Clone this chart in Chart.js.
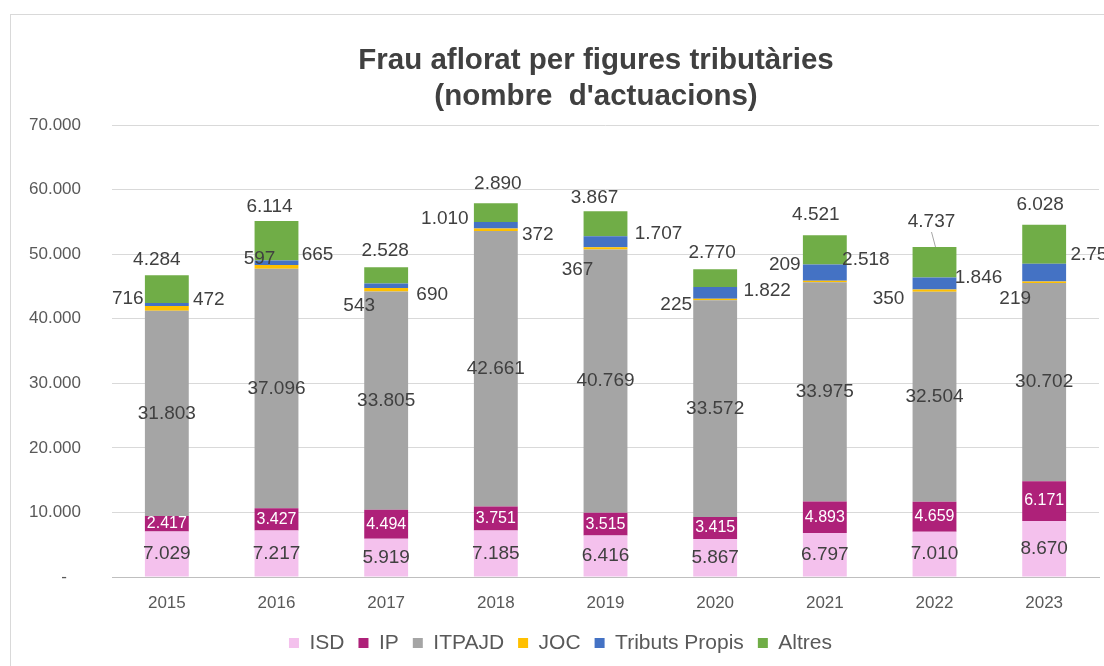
<!DOCTYPE html>
<html>
<head>
<meta charset="utf-8">
<script src="https://cdn.jsdelivr.net/npm/chart.js@4.4.1/dist/chart.umd.min.js"></script>
<style>
  html, body { margin: 0; padding: 0; background: #fff; }
  #wrap { position: relative; width: 1104px; height: 666px; overflow: hidden; }
  #frame { position: absolute; left: 10px; top: 14px; width: 1200px; height: 800px;
           border-left: 1px solid #d9d9d9; border-top: 1px solid #d9d9d9; }
  canvas { position: absolute; left: 0; top: 0; }
</style>
</head>
<body>
<div id="wrap">
  <div id="frame"></div>
  <canvas id="chart" width="1104" height="666"></canvas>
</div>
<script>
// data
var years = ['2015', '2016', '2017', '2018', '2019', '2020', '2021', '2022', '2023'];
var isd = [7029, 7217, 5919, 7185, 6416, 5867, 6797, 7010, 8670];
var ip = [2417, 3427, 4494, 3751, 3515, 3415, 4893, 4659, 6171];
var itpajd = [31803, 37096, 33805, 42661, 40769, 33572, 33975, 32504, 30702];
var joc = [716, 597, 543, 372, 367, 225, 209, 350, 219];
var tributs = [472, 665, 690, 1010, 1707, 1822, 2518, 1846, 2754];
var altres = [4284, 6114, 2528, 2890, 3867, 2770, 4521, 4737, 6028];
var yTicks = [0, 10000, 20000, 30000, 40000, 50000, 60000, 70000];

// where the small labels sit (offset from the segment, in px)
var jocDx = [-39, -17, -27, 42, -28, -39, -40, -46, -29];
var jocDy = [-10, -8, 16, 5, 21, 5, -17, 8, 17];
var tribDx = [42, 41, 46, -51, 53, 52, 41, 44, 50];
var tribDy = [-5, -8, 9, -6, -8, -2, -13, -6, -18];
var altDx = [-10, -7, -1, 2, -11, -3, -9, -3, -4];
var altDy = [-16, -14, -16, -20, -13, -16, -21, -25, -20];

var FONT = "'Liberation Sans', Arial, sans-serif";
Chart.defaults.font.family = FONT;

function fmt(v) {
  return String(v).replace(/\B(?=(\d{3})+(?!\d))/g, '.');
}

var titlePlugin = {
  id: 'titleText',
  afterDraw: function(chart) {
    var ctx = chart.ctx;
    ctx.save();
    ctx.fillStyle = '#404040';
    ctx.font = 'bold 29.5px ' + FONT;
    ctx.textAlign = 'center';
    ctx.textBaseline = 'middle';
    ctx.fillText('Frau aflorat per figures tributàries', 596, 61);
    ctx.fillText("(nombre  d'actuacions)", 596, 97);
    ctx.restore();
  }
};

var valueLabels = {
  id: 'valueLabels',
  afterDatasetsDraw: function(chart) {
    var ctx = chart.ctx;
    ctx.save();
    ctx.textAlign = 'center';
    ctx.textBaseline = 'middle';
    chart.data.datasets.forEach(function(ds, di) {
      var meta = chart.getDatasetMeta(di);
      meta.data.forEach(function(bar, i) {
        var txt = fmt(ds.data[i]);
        var x = bar.x;
        var y = (bar.y + bar.base) / 2;
        ctx.fillStyle = '#404040';
        ctx.font = '19px ' + FONT;
        if (di === 1) {
          ctx.fillStyle = '#ffffff';
          ctx.font = '16px ' + FONT;
        } else if (di === 3) {
          x += jocDx[i]; y += jocDy[i];
        } else if (di === 4) {
          x += tribDx[i]; y += tribDy[i];
        } else if (di === 5) {
          x += altDx[i]; y = bar.y + altDy[i];
          if (altDy[i] < -22) {
            ctx.strokeStyle = '#a6a6a6';
            ctx.lineWidth = 1;
            ctx.beginPath();
            ctx.moveTo(x, y + 10);
            ctx.lineTo(bar.x + 1, bar.y);
            ctx.stroke();
          }
        }
        ctx.fillText(txt, x, y);
      });
    });
    ctx.restore();
  }
};

var ctx = document.getElementById('chart');
var chart = new Chart(ctx, {
  type: 'bar',
  data: {
    labels: years,
    datasets: [
      { label: 'ISD', data: isd, backgroundColor: '#f4c1ed' },
      { label: 'IP', data: ip, backgroundColor: '#ae2179' },
      { label: 'ITPAJD', data: itpajd, backgroundColor: '#a5a5a5' },
      { label: 'JOC', data: joc, backgroundColor: '#ffc000' },
      { label: 'Tributs Propis', data: tributs, backgroundColor: '#4472c4' },
      { label: 'Altres', data: altres, backgroundColor: '#70ad47' }
    ]
  },
  options: {
    responsive: false,
    animation: false,
    barPercentage: 0.4,
    categoryPercentage: 1.0,
    layout: { padding: { left: 22, right: 5, top: 125, bottom: 2.5 } },
    plugins: {
      title: { display: false },
      tooltip: { enabled: false },
      legend: {
        position: 'bottom',
        labels: {
          boxWidth: 10,
          boxHeight: 10,
          padding: 14,
          color: '#595959',
          font: { size: 21 }
        }
      }
    },
    scales: {
      x: {
        stacked: true,
        grid: { display: false, drawTicks: false },
        border: { color: '#bfbfbf' },
        ticks: { padding: 16, color: '#595959', font: { size: 17 } },
        afterFit: function(s) { s.height = 41.5; }
      },
      y: {
        stacked: true,
        min: 0,
        max: 70000,
        afterBuildTicks: function(s) {
          s.ticks = yTicks.map(function(v) { return { value: v }; });
        },
        grid: { color: '#d9d9d9', drawTicks: false },
        border: { display: false },
        ticks: {
          padding: 31,
          color: '#595959',
          font: { size: 17 },
          callback: function(v) { return v === 0 ? '-   ' : fmt(v); }
        },
        afterFit: function(s) { s.width = 90; }
      }
    }
  },
  plugins: [valueLabels, titlePlugin]
});
</script>
</body>
</html>
